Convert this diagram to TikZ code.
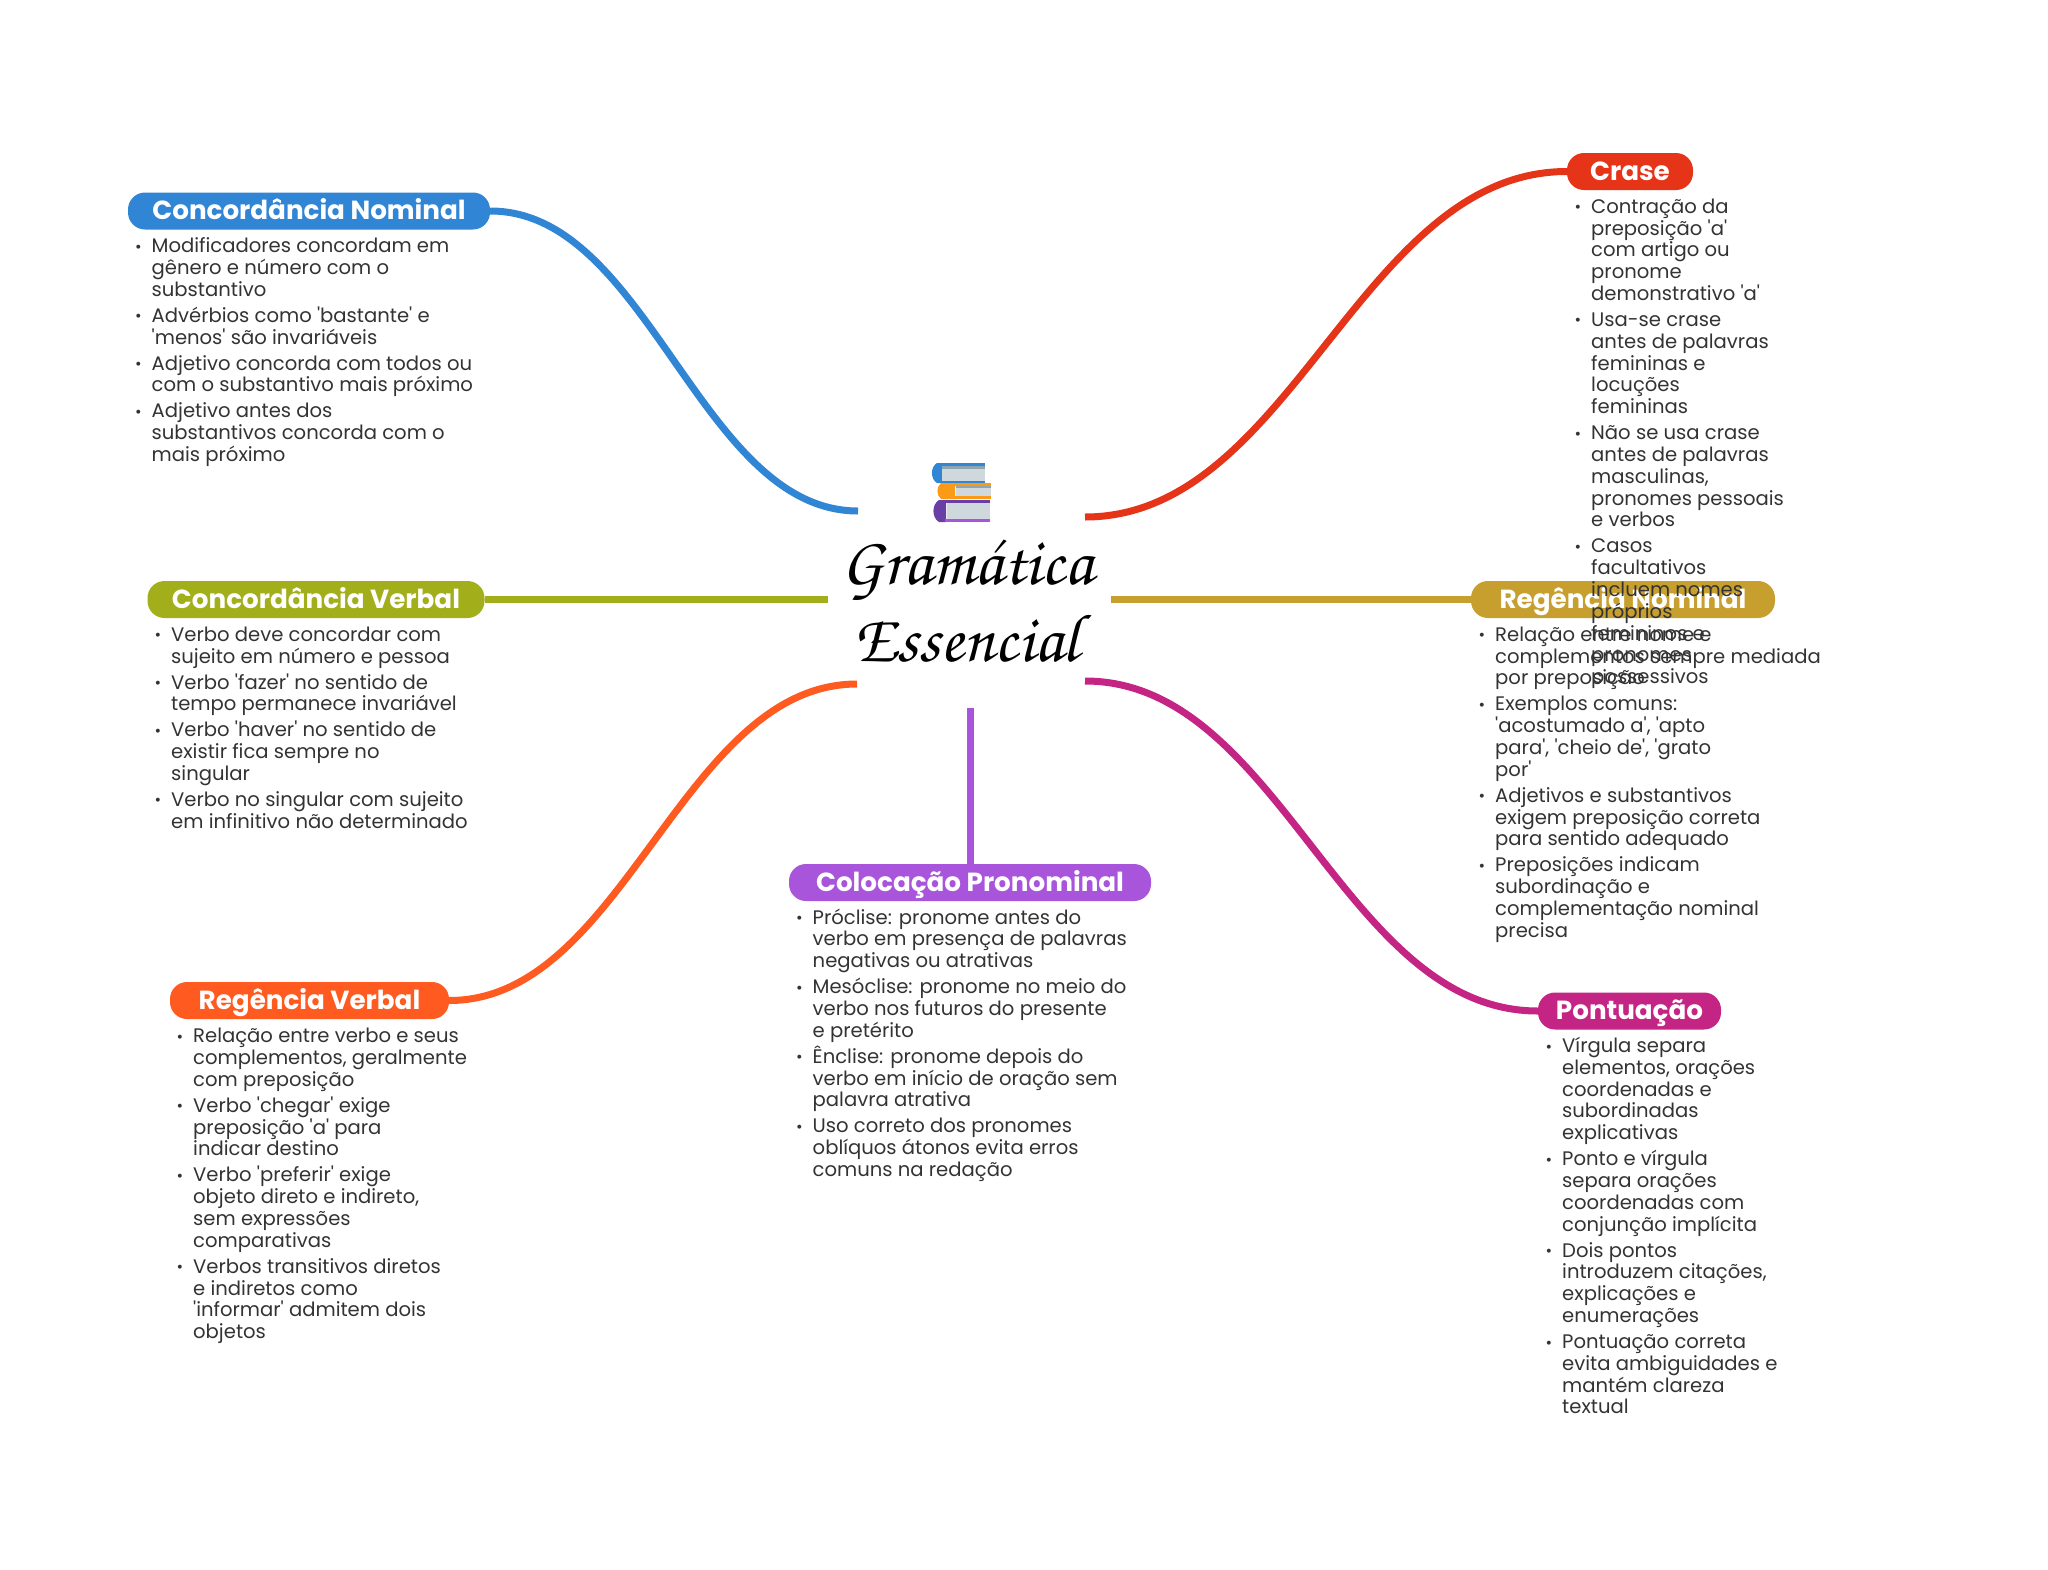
\documentclass[tikz,border=0pt]{standalone}
\usepackage[T1,TU]{fontenc}
\usepackage{fontspec}
\setmainfont{Poppins}
\usetikzlibrary{positioning}
\definecolor{textgray}{HTML}{333333}
\definecolor{cblue}{HTML}{3185D5}
\definecolor{cred}{HTML}{E63419}
\definecolor{colive}{HTML}{A2AF1B}
\definecolor{cgold}{HTML}{C79F2E}
\definecolor{corange}{HTML}{FF5A1F}
\definecolor{cpurple}{HTML}{A855DB}
\definecolor{cmagenta}{HTML}{C42584}
\definecolor{bookpage}{HTML}{CFD8DC}
\definecolor{bookedge}{HTML}{90A4AE}
\definecolor{bookorange}{HTML}{FB9A16}
\definecolor{bookpurple}{HTML}{6A3FA5}
\newcommand{\sq}{\textquotesingle}
\newcommand{\bul}{\leavevmode\llap{\raisebox{0.5pt}{\fontsize{16}{16}\selectfont •}\hskip 10pt}}
\newcommand{\gap}{\\[4.2pt]}
\newcommand{\tightlines}{\lineskiplimit=-100pt\relax}
\begin{document}
\begin{tikzpicture}[x=1pt,y=-1pt,line join=round,
	head/.style={rounded corners=17pt,minimum height=37pt,inner sep=0pt,text height=21pt,text depth=4pt,text=white,font=\fontsize{26.2}{30}\selectfont\bfseries},
	body/.style={anchor=north west,inner sep=0pt,align=left,text=textgray,font=\fontsize{19.6}{21.8}\selectfont,execute at begin node=\tightlines},
	branch/.style={line width=7pt}]
	\useasboundingbox (0,0) rectangle (2048,1569);
	% ends at the centre
	\coordinate (endblue) at (858,511);
	\coordinate (endred) at (1085,517);
	\coordinate (endolive) at (828,599.5);
	\coordinate (endgold) at (1111,599.5);
	\coordinate (endorange) at (857,684);
	\coordinate (endpurple) at (970,708);
	\coordinate (endmagenta) at (1085,681);
	% headers
	\node[head,fill=cblue,minimum width=362pt] (concnominal) at (309,211) {Concordância Nominal};
	\node[head,fill=colive,minimum width=337pt] (concverbal) at (316,599.5) {Concordância Verbal};
	\node[head,fill=corange,minimum width=279pt] (regverbal) at (309.5,1000.5) {Regência Verbal};
	\node[head,fill=cpurple,minimum width=362pt] (colocacao) at (970,882.5) {Colocação Pronominal};
	\node[head,fill=cmagenta,minimum width=183pt] (pontuacao) at (1629.5,1011) {Pontuação};
	\node[head,fill=cgold,minimum width=304pt] (regnominal) at (1623,599.5) {Regência Nominal};
	\node[head,fill=cred,minimum width=126pt] (crase) at (1630,171.5) {Crase};
	% branches
	\draw[branch,cblue] (concnominal.east) .. controls +(158,0) and +(-158,0) .. (endblue);
	\draw[branch,cred] (crase.west) .. controls +(-207,0) and +(207,0) .. (endred);
	\draw[branch,colive] (concverbal.east) -- (endolive);
	\draw[branch,cgold] (endgold) -- (regnominal.west);
	\draw[branch,corange] (regverbal.east) .. controls +(175,0) and +(-175,0) .. (endorange);
	\draw[branch,cpurple] (endpurple) -- (colocacao.north);
	\draw[branch,cmagenta] (endmagenta) .. controls +(195,0) and +(-195,0) .. (pontuacao.west);
	% books
	\fill[cblue] (945,463) -- (937,463) to[bend right=60] (937,483) -- (945,483) -- cycle;
	\fill[cblue] (940,463) rectangle (985,466);
	\fill[cblue] (940,481) rectangle (985,483);
	\fill[bookpage] (942,466) rectangle (985,481);
	\fill[bookedge] (942,466) rectangle (985,469);
	\fill[bookorange] (955,483) -- (941,483) to[bend right=50] (941,499) -- (955,499) -- cycle;
	\fill[bookorange] (950,483) rectangle (991,486);
	\fill[bookorange] (950,496) rectangle (991,499);
	\fill[bookpage] (956,486) rectangle (991,496);
	\fill[bookedge] (956,486) rectangle (991,488);
	\fill[bookpurple] (946,500) -- (939,500) to[bend right=60] (939,522) -- (946,522) -- cycle;
	\fill[bookpurple] (945,500) rectangle (990,503);
	\fill[cpurple] (945,519) rectangle (990,522);
	\fill[bookpage] (947,503) rectangle (990,519);
	% title
	\node[align=center,inner sep=0pt,font=\fontencoding{T1}\fontfamily{pzc}\fontseries{mb}\fontshape{it}\fontsize{68}{77}\selectfont] (title) at (967,601) {Gram\'atica\\Essencial};
	% lists
	\node[body] (listnominal) at (151.5,237.5) {\bul Modificadores concordam em\\gênero e número com o\\substantivo\gap
		\bul Advérbios como \sq bastante\sq{} e\\\sq menos\sq{} são invariáveis\gap
		\bul Adjetivo concorda com todos ou\\com o substantivo mais próximo\gap
		\bul Adjetivo antes dos\\substantivos concorda com o\\mais próximo};
	\node[body] (listverbal) at (171,626.5) {\bul Verbo deve concordar com\\sujeito em número e pessoa\gap
		\bul Verbo \sq fazer\sq{} no sentido de\\tempo permanece invariável\gap
		\bul Verbo \sq haver\sq{} no sentido de\\existir fica sempre no\\singular\gap
		\bul Verbo no singular com sujeito\\em infinitivo não determinado};
	\node[body] (listregverbal) at (193,1028) {\bul Relação entre verbo e seus\\complementos, geralmente\\com preposição\gap
		\bul Verbo \sq chegar\sq{} exige\\preposição \sq a\sq{} para\\indicar destino\gap
		\bul Verbo \sq preferir\sq{} exige\\objeto direto e indireto,\\sem expressões\\comparativas\gap
		\bul Verbos transitivos diretos\\e indiretos como\\\sq informar\sq{} admitem dois\\objetos};
	\node[body] (listcolocacao) at (812.5,908.5) {\bul Próclise: pronome antes do\\verbo em presença de palavras\\negativas ou atrativas\gap
		\bul Mesóclise: pronome no meio do\\verbo nos futuros do presente\\e pretérito\gap
		\bul Ênclise: pronome depois do\\verbo em início de oração sem\\palavra atrativa\gap
		\bul Uso correto dos pronomes\\oblíquos átonos evita erros\\comuns na redação};
	\node[body] (listpontuacao) at (1562,1037) {\bul Vírgula separa\\elementos, orações\\coordenadas e\\subordinadas\\explicativas\gap
		\bul Ponto e vírgula\\separa orações\\coordenadas com\\conjunção implícita\gap
		\bul Dois pontos\\introduzem citações,\\explicações e\\enumerações\gap
		\bul Pontuação correta\\evita ambiguidades e\\mantém clareza\\textual};
	\node[body] (listregnominal) at (1495,626.5) {\bul Relação entre nome e\\complementos sempre mediada\\por preposição\gap
		\bul Exemplos comuns:\\\sq acostumado a\sq, \sq apto\\para\sq, \sq cheio de\sq, \sq grato\\por\sq\gap
		\bul Adjetivos e substantivos\\exigem preposição correta\\para sentido adequado\gap
		\bul Preposições indicam\\subordinação e\\complementação nominal\\precisa};
	\node[body] (listcrase) at (1591,198.5) {\bul Contração da\\preposição \sq a\sq\\com artigo ou\\pronome\\demonstrativo \sq a\sq\gap
		\bul Usa-se crase\\antes de palavras\\femininas e\\locuções\\femininas\gap
		\bul Não se usa crase\\antes de palavras\\masculinas,\\pronomes pessoais\\e verbos\gap
		\bul Casos\\facultativos\\incluem nomes\\próprios\\femininos e\\pronomes\\possessivos};
\end{tikzpicture}
\end{document}
